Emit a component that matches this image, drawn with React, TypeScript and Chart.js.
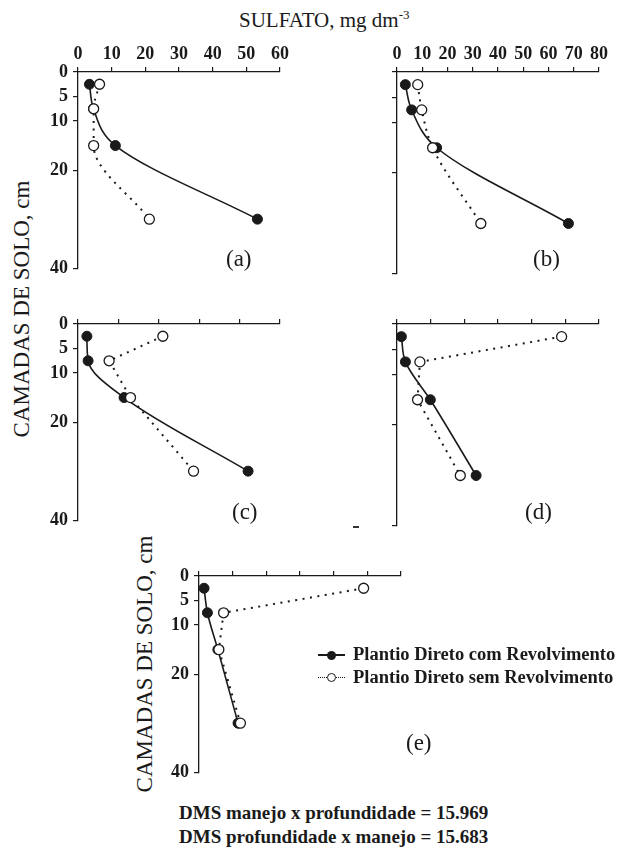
import React, { useEffect, useRef } from 'react';
import { Chart, registerables } from 'chart.js';

Chart.register(...registerables);

// ---- data ----
const depths = [2.5, 7.5, 15, 30];
const yTicks = [0, 5, 10, 20, 40];
const seriesNames = ['Plantio Direto com Revolvimento', 'Plantio Direto sem Revolvimento'];

const comA = [3.4, 4.6, 11.1, 53.3];
const semA = [6.4, 4.65, 4.65, 21.2];
const comB = [3.3, 5.8, 15.7, 67.9];
const semB = [8.2, 9.8, 14.1, 33.2];
const comC = [2.2, 2.5, 11.4, 42.1];
const semC = [21, 7.7, 13, 28.6];
const comD = [1.3, 2.5, 9.9, 23.5];
const semD = [48.9, 6.8, 6.1, 18.8];
const comE = [1.5, 2.5, 5.6, 11.6];
const semE = [48.9, 7.3, 5.9, 12.3];

const xMaxA = 60;
const xMaxB = 80;
const xMaxC = 50;
const xMaxD = 60;
const xMaxE = 60;
const xStep = 10;

const FONT = "'Liberation Serif', 'Times New Roman', serif";
const INK = '#1a1a1a';

type PanelProps = {
  com: number[];
  sem: number[];
  xMax: number;
  showX: boolean;
  showY: boolean;
  semSmooth: boolean;
  left: number;
  top: number;
};

const CW = 282;
const CH = 252;

function Panel({ com, sem, xMax, showX, showY, semSmooth, left, top }: PanelProps) {
  const ref = useRef<HTMLCanvasElement | null>(null);
  useEffect(() => {
    if (!ref.current) return;
    const tickFont = { family: FONT, size: 18, weight: 'bold' as const };
    const chart = new Chart(ref.current, {
      type: 'line',
      data: {
        datasets: [
          {
            label: seriesNames[1],
            data: depths.map((d, i) => ({ x: sem[i], y: d })),
            borderColor: INK,
            borderWidth: 2,
            borderDash: [2, 5.5],
            pointRadius: 5,
            pointBackgroundColor: '#ffffff',
            pointBorderColor: INK,
            pointBorderWidth: 1.3,
            cubicInterpolationMode: semSmooth ? 'monotone' : 'default',
            tension: 0,
            fill: false,
            order: 0,
          },
          {
            label: seriesNames[0],
            data: depths.map((d, i) => ({ x: com[i], y: d })),
            borderColor: INK,
            borderWidth: 1.6,
            pointRadius: 5,
            pointBackgroundColor: INK,
            pointBorderColor: INK,
            pointBorderWidth: 1,
            cubicInterpolationMode: 'monotone',
            fill: false,
            order: 1,
          },
        ],
      },
      options: {
        indexAxis: 'y',
        animation: false,
        responsive: false,
        maintainAspectRatio: false,
        events: [],
        layout: { padding: { left: 0, top: 0, right: 20, bottom: 10 } },
        plugins: { legend: { display: false }, tooltip: { enabled: false } },
        scales: {
          x: {
            type: 'linear',
            position: 'top',
            min: 0,
            max: xMax,
            afterFit: (s: any) => {
              s.height = 40;
            },
            grid: { drawOnChartArea: false, drawTicks: true, tickLength: 5, color: INK, lineWidth: 1.2 },
            border: { display: true, color: INK, width: 1.3 },
            ticks: {
              display: showX,
              stepSize: xStep,
              color: INK,
              font: tickFont,
              padding: 2,
              maxRotation: 0,
              autoSkip: false,
            },
          },
          y: {
            type: 'linear',
            position: 'left',
            reverse: true,
            min: 0,
            max: 40,
            afterBuildTicks: (s: any) => {
              s.ticks = yTicks.map((v) => ({ value: v }));
            },
            afterFit: (s: any) => {
              s.width = 60;
            },
            grid: { drawOnChartArea: false, drawTicks: true, tickLength: 5, color: INK, lineWidth: 1.2 },
            border: { display: true, color: INK, width: 1.3 },
            ticks: {
              display: showY,
              color: INK,
              font: tickFont,
              padding: 5,
              autoSkip: false,
            },
          },
        },
      },
    } as any);
    return () => chart.destroy();
  }, []);
  return (
    <canvas
      ref={ref}
      width={CW}
      height={CH}
      style={{ position: 'absolute', left, top, width: CW, height: CH }}
    />
  );
}

function Txt({ x, y, size, bold, children, style }: any) {
  // y is baseline
  const lh = size;
  const top = y - (size * 0.891 - (size * 1.107 - lh) / 2);
  return (
    <div
      style={{
        position: 'absolute',
        left: x,
        top,
        fontFamily: FONT,
        fontSize: size,
        lineHeight: `${lh}px`,
        fontWeight: bold ? 'bold' : 'normal',
        color: INK,
        whiteSpace: 'nowrap',
        ...style,
      }}
    >
      {children}
    </div>
  );
}

function VTitle({ cx, cy }: { cx: number; cy: number }) {
  return (
    <div
      style={{
        position: 'absolute',
        left: cx,
        top: cy,
        transform: 'translate(-50%, -50%) rotate(-90deg)',
        fontFamily: FONT,
        fontSize: 23,
        lineHeight: '23px',
        color: INK,
        whiteSpace: 'nowrap',
      }}
    >
      CAMADAS DE SOLO, cm
    </div>
  );
}

export default function App() {
  return (
    <div style={{ background: '#fff' }}>
      <Txt x={239} y={28} size={21}>
        SULFATO, mg dm<span style={{ fontSize: 13, position: 'relative', top: -8 }}>-3</span>
      </Txt>
      <VTitle cx={20.5} cy={308.5} />
      <VTitle cx={143.5} cy={664} />

      <Panel com={comA} sem={semA} xMax={xMaxA} showX={true} showY={true} semSmooth={true} left={18} top={32} />
      <Panel com={comB} sem={semB} xMax={xMaxB} showX={true} showY={false} semSmooth={true} left={337} top={32} />
      <Panel com={comC} sem={semC} xMax={xMaxC} showX={false} showY={true} semSmooth={false} left={18} top={284} />
      <Panel com={comD} sem={semD} xMax={xMaxD} showX={false} showY={false} semSmooth={false} left={337} top={284} />
      <Panel com={comE} sem={semE} xMax={xMaxE} showX={false} showY={true} semSmooth={false} left={139} top={536} />

      <Txt x={226} y={266} size={23}>(a)</Txt>
      <Txt x={533} y={266} size={23}>(b)</Txt>
      <Txt x={232} y={519} size={23}>(c)</Txt>
      <Txt x={525} y={519} size={23}>(d)</Txt>
      <Txt x={406} y={750} size={23}>(e)</Txt>

      <div style={{ position: 'absolute', left: 353, top: 526, width: 6, height: 1.5, background: '#333' }} />

      {/* legend */}
      <div style={{ position: 'absolute', left: 318, top: 654.2, width: 27, height: 1.6, background: INK }} />
      <div
        style={{
          position: 'absolute',
          left: 327,
          top: 650.5,
          width: 9,
          height: 9,
          borderRadius: '50%',
          background: INK,
        }}
      />
      <div style={{ position: 'absolute', left: 318, top: 677, width: 27, height: 0, borderTop: `1.6px dotted ${INK}` }} />
      <div
        style={{
          position: 'absolute',
          left: 326.8,
          top: 673.3,
          width: 7,
          height: 7,
          borderRadius: '50%',
          background: '#fff',
          border: `1.2px solid ${INK}`,
        }}
      />
      <Txt x={353} y={660} size={18.5} bold>
        {seriesNames[0]}
      </Txt>
      <Txt x={353} y={683.3} size={18.5} bold>
        {seriesNames[1]}
      </Txt>

      <Txt x={179} y={819} size={19} bold>
        DMS manejo x profundidade = 15.969
      </Txt>
      <Txt x={179} y={842.7} size={19} bold>
        DMS profundidade x manejo = 15.683
      </Txt>
    </div>
  );
}
